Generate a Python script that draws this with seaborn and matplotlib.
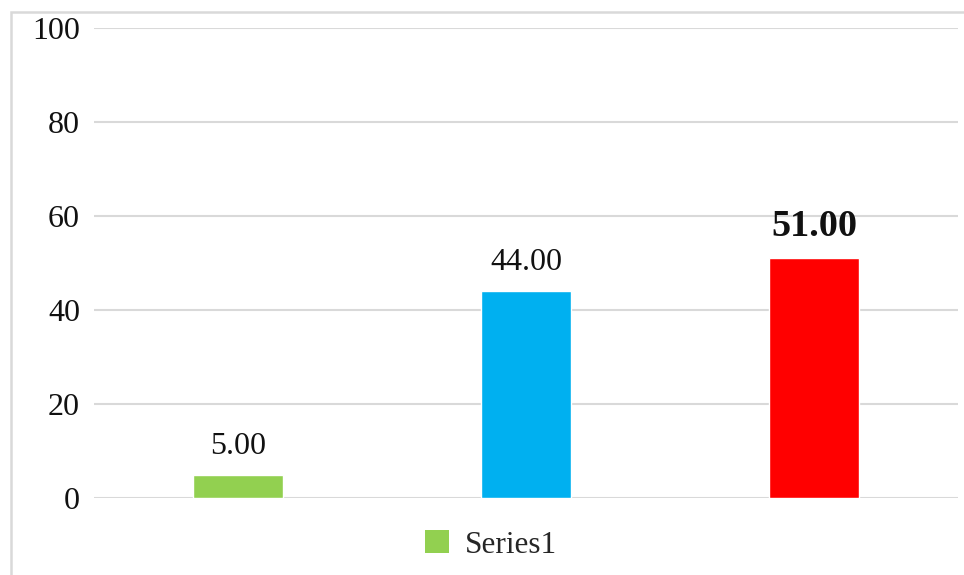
import matplotlib
matplotlib.use("Agg")
import matplotlib.pyplot as plt
from matplotlib.patches import Patch, Rectangle
import seaborn as sns
import pandas as pd

categories = ["1", "2", "3"]
values = [5.00, 44.00, 51.00]
bar_colors = ["#92D050", "#00B0F0", "#FF0000"]
series_name = "Series1"
y_ticks = [0, 20, 40, 60, 80, 100]

sns.set_theme(style="white")
plt.rcParams["font.family"] = ["Liberation Serif", "DejaVu Serif"]

df = pd.DataFrame({"category": categories, "value": values})

fig = plt.figure(figsize=(9.64, 5.75), dpi=100)
ax = fig.add_axes([94 / 964, 1 - 498 / 575, (958 - 94) / 964, (498 - 28) / 575])

sns.barplot(data=df, x="category", y="value", hue="category",
            palette=bar_colors, width=0.3125, legend=False, ax=ax,
            saturation=1)

ax.set_ylim(0, 100)
ax.set_xlim(-0.5, 2.5)
ax.set_yticks(y_ticks)
ax.set_yticklabels([str(t) for t in y_ticks], fontsize=23, color="#111111")
ax.tick_params(axis="y", length=0, pad=10)
ax.set_xticks([])
ax.set_xlabel("")
ax.set_ylabel("")
for s in ax.spines.values():
    s.set_visible(False)
ax.yaxis.grid(True, color="#d9d9d9", linewidth=1.5)
ax.set_axisbelow(True)

# value labels above each bar; the last one emphasised
for i, (bar, v) in enumerate(zip(ax.patches, values)):
    x = bar.get_x() + bar.get_width() / 2
    last = i == len(values) - 1
    ax.annotate(f"{v:.2f}", (x, v), xytext=(0, 10),
                textcoords="offset points", ha="center", va="bottom",
                fontsize=27.5 if last else 23,
                fontweight="bold" if last else "normal", color="#111111")

# legend below the plot
handle = Patch(facecolor=bar_colors[0], edgecolor="none")
fig.legend([handle], [series_name], loc="center", bbox_to_anchor=(491 / 964, 1 - 545 / 575),
           frameon=False, fontsize=22.5, handlelength=0.75, handleheight=0.75,
           handletextpad=0.5)

# chart frame
fig.patches.append(Rectangle((11 / 964, -0.05), 1.1, 1 - 12 / 575 + 0.05,
                             transform=fig.transFigure, fill=False,
                             edgecolor="#d9d9d9", linewidth=1.8))

fig.savefig("out.png", dpi=100)
